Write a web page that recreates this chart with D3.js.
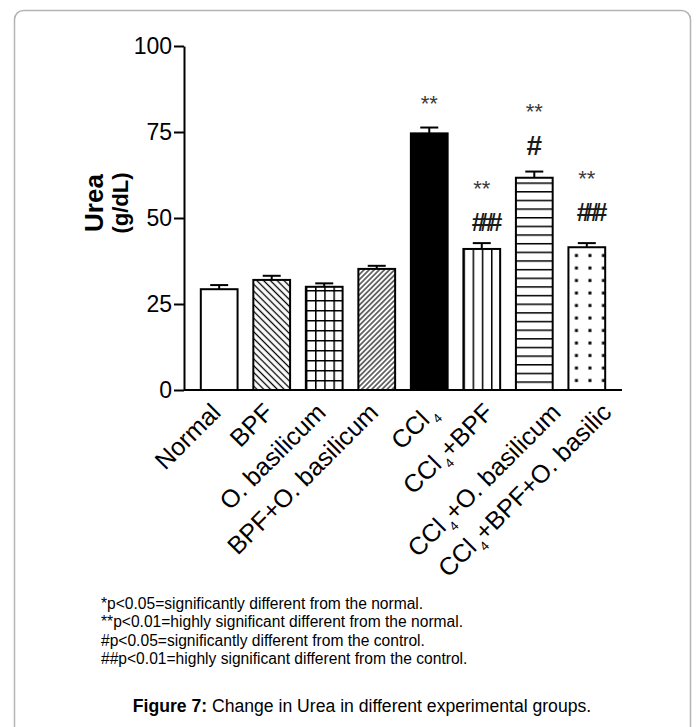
<!DOCTYPE html>
<html>
<head>
<meta charset="utf-8">
<script src="https://cdn.jsdelivr.net/npm/d3@7"></script>
<style>
  html, body { margin: 0; padding: 0; background: #fff; }
  svg { display: block; font-family: "Liberation Sans", Arial, sans-serif; }
</style>
</head>
<body>
<svg id="chart" width="697" height="727"></svg>
<script>
// ---------- data ----------
const categories = ["Normal", "BPF", "O. basilicum", "BPF+O. basilicum",
                    "CCl4", "CCl4+BPF", "CCl4+O. basilicum", "CCl4+BPF+O. basilic"];
const means  = [29.3, 32.0, 30.0, 35.2, 74.6, 41.0, 61.7, 41.5];
const errors = [1.2, 1.2, 1.0, 0.9, 1.7, 1.7, 1.8, 1.2];
const starLabels = ["", "", "", "", "**", "**", "**", "**"];
const starLevels = [null, null, null, null, 81.2, 56.5, 78.9, 59.4];
const hashLabels = ["", "", "", "", "", "###", "#", "###"];
const hashLevels = [null, null, null, null, null, 46.2, 68.3, 49.1];
const yTicks = [0, 25, 50, 75, 100];
const yTitle = "Urea";
const yUnit = "(g/dL)";
const notes = [
  "*p<0.05=significantly different from the normal.",
  "**p<0.01=highly significant different from the normal.",
  "#p<0.05=significantly different from the control.",
  "##p<0.01=highly significant different from the control."
];
const captionBold = "Figure 7:";
const captionText = " Change in Urea in different experimental groups.";

// ---------- styles ----------
const fills = ["white", "diagDown", "grid", "diagUp", "black", "vert", "horiz", "dots"];
const labelShift = [0, 0, 0, 0, 6, 10, 25, 23];   // extra horizontal offset of rotated labels (px)

const svg = d3.select("#chart");

// frame
svg.append("rect")
  .attr("x", 14.5).attr("y", 10.5).attr("width", 676).attr("height", 800)
  .attr("rx", 9).attr("fill", "none").attr("stroke", "#b4b4b4").attr("stroke-width", 1.5);

const y = d3.scaleLinear().domain([0, 100]).range([390, 46]);
const x = d3.scaleBand().domain(categories).range([184, 622])
  .paddingInner(0.3).paddingOuter(0.32);
const bw = x.bandwidth();

// ---------- patterns ----------
const defs = svg.append("defs");
categories.forEach((c, i) => {
  const bx = x(c), by = y(0);
  const id = "pat" + i;
  const f = fills[i];
  let p;
  if (f === "diagDown" || f === "diagUp") {
    const sp = f === "diagDown" ? 4.8 : 3.6;
    p = defs.append("pattern").attr("id", id).attr("patternUnits", "userSpaceOnUse")
      .attr("width", sp).attr("height", sp)
      .attr("patternTransform", f === "diagDown" ? "rotate(-45)" : "rotate(45)");
    p.append("line").attr("x1", sp / 2).attr("x2", sp / 2).attr("y1", -1).attr("y2", sp + 1)
      .attr("stroke", "#000").attr("stroke-width", f === "diagDown" ? 1.3 : 1.1);
  } else if (f === "grid") {
    const w = bw / 4, h = 10;
    p = defs.append("pattern").attr("id", id).attr("patternUnits", "userSpaceOnUse")
      .attr("x", bx).attr("y", by).attr("width", w).attr("height", h);
    p.append("line").attr("x1", 0).attr("x2", 0).attr("y1", 0).attr("y2", h)
      .attr("stroke", "#000").attr("stroke-width", 3);
    p.append("line").attr("x1", 0).attr("x2", w).attr("y1", 0).attr("y2", 0)
      .attr("stroke", "#000").attr("stroke-width", 3);
  } else if (f === "vert") {
    const w = bw / 4;
    p = defs.append("pattern").attr("id", id).attr("patternUnits", "userSpaceOnUse")
      .attr("x", bx).attr("y", by).attr("width", w).attr("height", 10);
    p.append("line").attr("x1", 0).attr("x2", 0).attr("y1", 0).attr("y2", 10)
      .attr("stroke", "#000").attr("stroke-width", 3);
  } else if (f === "horiz") {
    const h = 8.65;
    p = defs.append("pattern").attr("id", id).attr("patternUnits", "userSpaceOnUse")
      .attr("x", bx).attr("y", by).attr("width", 10).attr("height", h);
    p.append("line").attr("x1", 0).attr("x2", 10).attr("y1", 0).attr("y2", 0)
      .attr("stroke", "#000").attr("stroke-width", 3);
  } else if (f === "dots") {
    const w = 13.5, h = 12.5;
    p = defs.append("pattern").attr("id", id).attr("patternUnits", "userSpaceOnUse")
      .attr("x", bx + 1.2).attr("y", by - 3).attr("width", w).attr("height", h);
    p.append("rect").attr("x", 5.3).attr("y", 4.5).attr("width", 3).attr("height", 3).attr("fill", "#000");
  }
});

// ---------- bars ----------
const g = svg.append("g");
g.selectAll("rect.bar").data(categories).join("rect")
  .attr("class", "bar")
  .attr("x", c => x(c))
  .attr("y", (c, i) => y(means[i]))
  .attr("width", bw)
  .attr("height", (c, i) => y(0) - y(means[i]))
  .attr("fill", (c, i) => {
    const f = fills[i];
    if (f === "white") return "#fff";
    if (f === "black") return "#000";
    return "url(#pat" + i + ")";
  })
  .attr("stroke", "#000").attr("stroke-width", 2);

// error bars
categories.forEach((c, i) => {
  const cx = x(c) + bw / 2;
  g.append("line").attr("x1", cx).attr("x2", cx)
    .attr("y1", y(means[i])).attr("y2", y(means[i] + errors[i]))
    .attr("stroke", "#000").attr("stroke-width", 2);
  g.append("line").attr("x1", cx - 9).attr("x2", cx + 9)
    .attr("y1", y(means[i] + errors[i])).attr("y2", y(means[i] + errors[i]))
    .attr("stroke", "#000").attr("stroke-width", 2);
});

// annotations
categories.forEach((c, i) => {
  const cx = x(c) + bw / 2;
  if (starLabels[i]) {
    svg.append("text").attr("x", cx).attr("y", y(starLevels[i]))
      .attr("text-anchor", "middle").attr("font-size", 22).attr("fill", "#3a3a3a")
      .text(starLabels[i]);
  }
  if (hashLabels[i]) {
    const multi = hashLabels[i].length > 1;
    svg.append("text").attr("x", cx + (multi ? 2.5 : 0)).attr("y", y(hashLevels[i]))
      .attr("text-anchor", "middle").attr("font-weight", "bold")
      .attr("font-size", multi ? 25 : 28)
      .attr("letter-spacing", multi ? -5.5 : 0)
      .attr("fill", "#1a1a1a")
      .text(hashLabels[i]);
  }
});

// ---------- axes ----------
const yAxis = d3.axisLeft(y).tickValues(yTicks).tickSize(10).tickSizeOuter(0).tickPadding(2);
const ya = svg.append("g").attr("transform", "translate(184,0)").call(yAxis);
ya.select(".domain").attr("stroke", "#000").attr("stroke-width", 2);
ya.selectAll(".tick line").attr("stroke", "#000").attr("stroke-width", 2);
ya.selectAll(".tick text").attr("font-size", 23).attr("fill", "#000")
  .attr("font-family", "Liberation Sans, Arial, sans-serif");

const xAxis = d3.axisBottom(x).tickSize(0).tickFormat("");
const xa = svg.append("g").attr("transform", "translate(0," + y(0) + ")").call(xAxis);
xa.select(".domain").attr("stroke", "#000").attr("stroke-width", 2)
  .attr("d", "M184,0H622");

// x labels
categories.forEach((c, i) => {
  const cx = x(c) + bw / 2 + 3 + labelShift[i];
  const t = svg.append("text")
    .attr("transform", "translate(" + cx + "," + (y(0) + 24) + ") rotate(-45)")
    .attr("text-anchor", "end").attr("font-size", 25).attr("fill", "#000");
  if (c.startsWith("CCl4")) {
    t.append("tspan").text("CCl");
    t.append("tspan").attr("font-size", 13).attr("dx", 3).attr("dy", 7).text("4");
    const rest = c.slice(4);
    if (rest) t.append("tspan").attr("dy", -7).text(rest);
  } else {
    t.text(c);
  }
});

// y title
svg.append("text")
  .attr("transform", "translate(103,203) rotate(-90)")
  .attr("text-anchor", "middle").attr("font-weight", "bold").attr("font-size", 26)
  .text(yTitle);
svg.append("text")
  .attr("transform", "translate(128,203) rotate(-90)")
  .attr("text-anchor", "middle").attr("font-weight", "bold").attr("font-size", 22)
  .text(yUnit);

// notes
svg.selectAll("text.note").data(notes).join("text")
  .attr("class", "note")
  .attr("x", 101).attr("y", (d, i) => 609 + i * 18.3)
  .attr("font-size", 15.6).attr("fill", "#000")
  .text(d => d);

// caption
const cap = svg.append("text").attr("x", 362).attr("y", 712)
  .attr("text-anchor", "middle").attr("font-size", 17.6).attr("fill", "#000");
cap.append("tspan").attr("font-weight", "bold").text(captionBold);
cap.append("tspan").text(captionText);
</script>
</body>
</html>
